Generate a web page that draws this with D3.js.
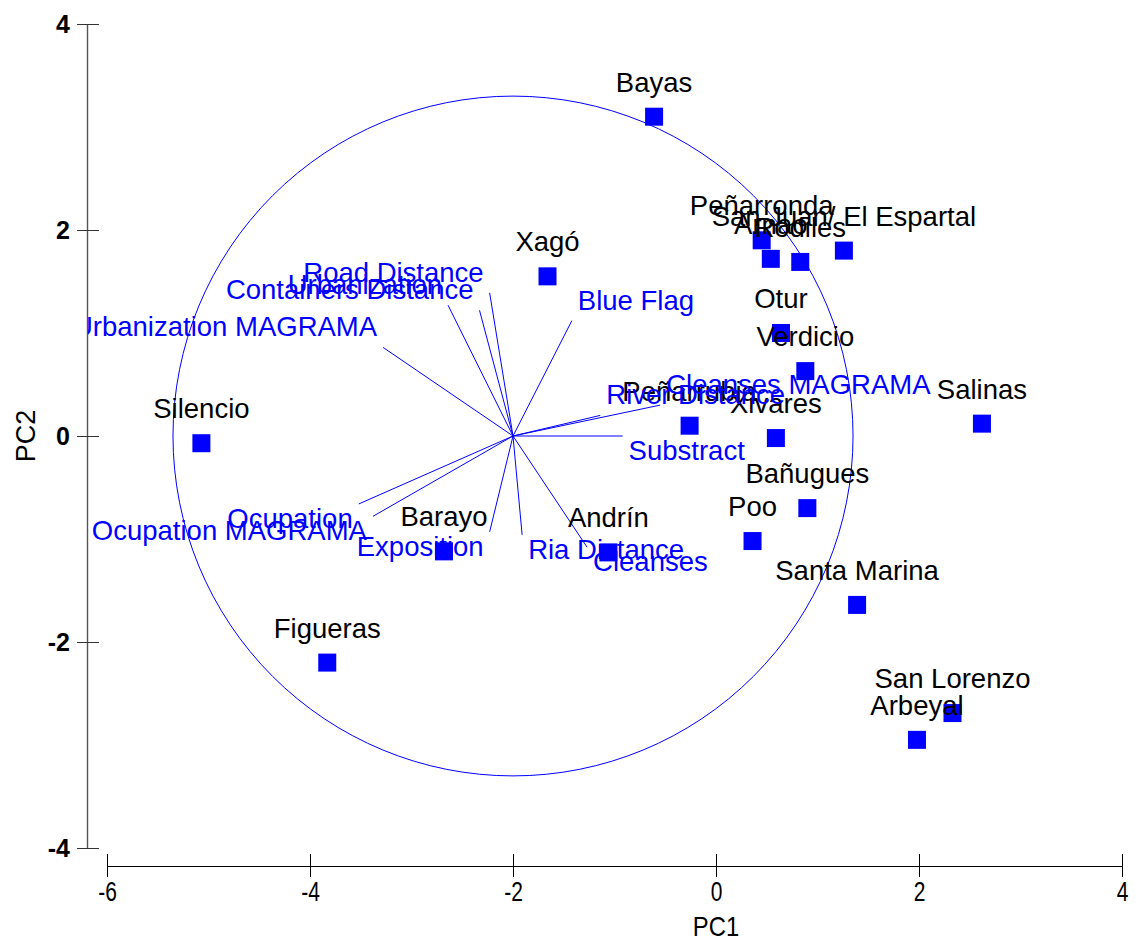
<!DOCTYPE html>
<html>
<head>
<meta charset="utf-8">
<script src="https://cdn.jsdelivr.net/npm/d3@7"></script>
<style>
  html, body { margin: 0; padding: 0; background: #fff; }
  svg { display: block; }
  text { font-family: "Liberation Sans", Arial, sans-serif; }
</style>
</head>
<body>
<svg id="chart" width="1136" height="943"></svg>
<script>
// Site scores on the first two principal components
const sites = ["Bayas", "Xagó", "Peñarronda", "San Juan/ El Espartal", "Arnao", "Rodiles",
  "Otur", "Verdicio", "Salinas", "Peñarrubia", "Xivares", "Bañugues", "Poo", "Santa Marina",
  "San Lorenzo", "Arbeyal", "Silencio", "Figueras", "Barayo", "Andrín"];
const pc1 = [-0.61, -1.66, 0.45, 1.26, 0.54, 0.83,
  0.64, 0.88, 2.62, -0.26, 0.59, 0.90, 0.36, 1.39,
  2.33, 1.98, -5.07, -3.83, -2.68, -1.06];
const pc2 = [3.10, 1.55, 1.90, 1.80, 1.72, 1.69,
  1.00, 0.63, 0.12, 0.10, -0.02, -0.70, -1.02, -1.64,
  -2.69, -2.95, -0.07, -2.20, -1.12, -1.13];

// Variable loadings, drawn as arrows from the centre of the correlation circle
const variables = ["Urbanization MAGRAMA", "Urbanization", "Containers Distance", "Road Distance",
  "Blue Flag", "Cleanses MAGRAMA", "River Distance", "Substract", "Cleanses", "Ria Distance",
  "Exposition", "Ocupation MAGRAMA", "Ocupation"];
const load1 = [-3.28, -2.64, -2.33, -2.23, -1.42, -0.55, -1.14, -0.92, -1.27, -1.91, -2.23, -3.38, -3.52];
const load2 = [0.86, 1.27, 1.22, 1.39, 1.12, 0.30, 0.20, 0.00, -1.08, -0.96, -0.93, -0.78, -0.66];

// Correlation circle: centre and radius in PC units
const circleCentre = [-2, 0];
const circleRadius = [3.35, 3.30];

const xTicks = [-6, -4, -2, 0, 2, 4];
const yTicks = [-4, -2, 0, 2, 4];

const svg = d3.select("#chart");
const x = d3.scaleLinear().domain([-6, 4]).range([107, 1122]);
const y = d3.scaleLinear().domain([-4, 4]).range([848, 24]);
const blue = "#0000ff";
const fmt = d => String(d);

// plotting region (everything right of the vertical axis)
svg.append("defs").append("clipPath").attr("id", "plot-clip")
  .append("rect").attr("x", 88).attr("y", 0).attr("width", 1136 - 88).attr("height", 860);

// x axis
const xAxis = svg.append("g").attr("transform", "translate(0,866)")
  .call(d3.axisBottom(x).tickValues(xTicks).tickFormat(fmt).tickSize(11).tickSizeOuter(0).tickPadding(4));
xAxis.select(".domain").attr("stroke", "#000").attr("stroke-width", 1.2);
xAxis.selectAll(".tick line").attr("y1", -12).attr("y2", 11).attr("stroke", "#000");
xAxis.selectAll(".tick text")
  .attr("fill", "#000")
  .style("font-size", "28px")
  .attr("transform", "scale(0.75,1)");

// y axis
const yAxis = svg.append("g").attr("transform", "translate(87,0)")
  .call(d3.axisLeft(y).tickValues(yTicks).tickFormat(fmt).tickSize(10).tickSizeOuter(0).tickPadding(6));
yAxis.select(".domain").attr("stroke", "#555").attr("stroke-width", 1.4);
yAxis.selectAll(".tick line").attr("x1", -10).attr("x2", 12).attr("stroke", "#333");
yAxis.selectAll(".tick text")
  .attr("fill", "#000")
  .attr("x", -17)
  .style("font-size", "25px")
  .style("font-weight", "bold");

// axis titles
svg.append("text").attr("x", x(0)).attr("y", 936).attr("text-anchor", "middle")
  .style("font-size", "28px").attr("transform", `translate(${x(0)},0) scale(0.85,1) translate(${-x(0)},0)`)
  .text("PC1");
svg.append("text").attr("transform", `translate(35,${y(0)}) rotate(-90)`)
  .attr("text-anchor", "middle").style("font-size", "27px").text("PC2");

const plot = svg.append("g").attr("clip-path", "url(#plot-clip)");

// correlation circle
plot.append("ellipse")
  .attr("cx", x(circleCentre[0])).attr("cy", y(circleCentre[1]))
  .attr("rx", x(circleCentre[0] + circleRadius[0]) - x(circleCentre[0]))
  .attr("ry", y(circleCentre[1]) - y(circleCentre[1] + circleRadius[1]))
  .attr("fill", "none").attr("stroke", blue).attr("stroke-width", 1);

// loading vectors
const vec = variables.map((name, i) => ({ name, a: load1[i], b: load2[i] }));
plot.selectAll("line.vec").data(vec).join("line").attr("class", "vec")
  .attr("x1", x(circleCentre[0])).attr("y1", y(circleCentre[1]))
  .attr("x2", d => x(d.a)).attr("y2", d => y(d.b))
  .attr("stroke", blue).attr("stroke-width", 1);

// site squares
const pts = sites.map((name, i) => ({ name, a: pc1[i], b: pc2[i] }));
plot.selectAll("rect.site").data(pts).join("rect").attr("class", "site")
  .attr("x", d => x(d.a) - 9).attr("y", d => y(d.b) - 9)
  .attr("width", 18).attr("height", 18).attr("fill", blue);

// site labels above each square
plot.selectAll("text.site").data(pts).join("text").attr("class", "site")
  .attr("x", d => x(d.a)).attr("y", d => y(d.b) - 25)
  .attr("text-anchor", "middle").attr("fill", "#000")
  .style("font-size", "27.5px").text(d => d.name);

// variable labels at the tip of each vector
plot.selectAll("text.vec").data(vec).join("text").attr("class", "vec")
  .attr("x", d => x(d.a) + (d.a < circleCentre[0] ? -6 : 6))
  .attr("y", d => y(d.b) + (d.b > 0.05 ? -11 : 24))
  .attr("text-anchor", d => d.a < circleCentre[0] ? "end" : "start")
  .attr("fill", blue).style("font-size", "27.5px").text(d => d.name);
</script>
</body>
</html>
